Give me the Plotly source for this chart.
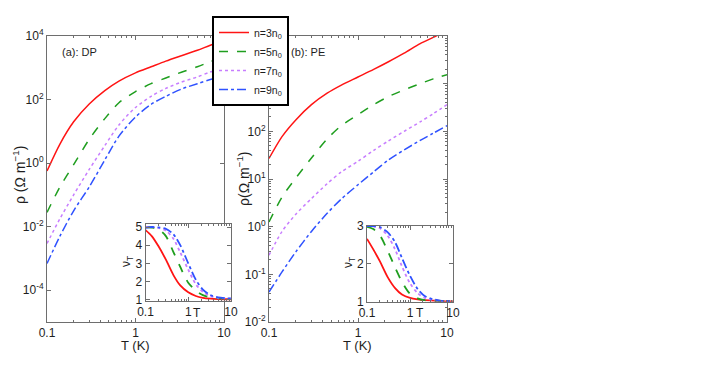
import plotly.graph_objects as go

# temperature grid (K)
T = [0.1, 0.14, 0.2, 0.3, 0.45, 0.65, 1.0, 1.5, 2.2, 3.3, 5.0, 7.0, 10.0]

labels = ["n=3n<sub>0</sub>", "n=5n<sub>0</sub>", "n=7n<sub>0</sub>", "n=9n<sub>0</sub>"]
colors = ["#ff1414", "#1f9e1f", "#c77dff", "#2f52ff"]
dashes = ["solid", "dash", "dot", "dashdot"]

# (a) DP: log10 of resistivity
dp_n3 = [-0.25, 0.60, 1.30, 1.86, 2.28, 2.58, 2.84, 3.03, 3.21, 3.38, 3.55, 3.71, 3.86]
dp_n5 = [-1.55, -0.75, -0.05, 0.75, 1.40, 1.90, 2.25, 2.50, 2.68, 2.86, 3.03, 3.19, 3.33]
dp_n7 = [-2.53, -1.75, -1.00, -0.20, 0.55, 1.20, 1.75, 2.10, 2.35, 2.55, 2.71, 2.87, 3.00]
dp_n9 = [-3.16, -2.30, -1.50, -0.75, 0.10, 0.85, 1.45, 1.85, 2.10, 2.33, 2.50, 2.63, 2.75]

# (b) PE: log10 of resistivity
pe_n3 = [1.43, 1.89, 2.24, 2.56, 2.80, 2.97, 3.14, 3.30, 3.46, 3.64, 3.84, 3.97, 4.12]
pe_n5 = [0.10, 0.62, 1.02, 1.44, 1.84, 2.12, 2.35, 2.56, 2.73, 2.87, 3.00, 3.10, 3.19]
pe_n7 = [-0.60, -0.10, 0.26, 0.59, 0.90, 1.15, 1.37, 1.60, 1.80, 2.00, 2.20, 2.37, 2.56]
pe_n9 = [-1.37, -0.95, -0.53, -0.10, 0.28, 0.58, 0.88, 1.15, 1.40, 1.61, 1.81, 1.96, 2.12]

# insets: nu_T
dp_nu3 = [4.83, 4.50, 3.95, 3.20, 2.35, 1.78, 1.40, 1.20, 1.10, 1.05, 1.03, 1.02, 1.02]
dp_nu5 = [5.00, 4.97, 4.88, 4.50, 3.62, 2.80, 1.93, 1.50, 1.25, 1.13, 1.08, 1.05, 1.04]
dp_nu7 = [5.00, 4.99, 4.95, 4.80, 4.35, 3.60, 2.65, 1.85, 1.42, 1.20, 1.10, 1.07, 1.05]
dp_nu9 = [4.95, 5.00, 4.98, 4.90, 4.60, 4.00, 3.00, 2.10, 1.55, 1.25, 1.12, 1.08, 1.06]

pe_nu3 = [2.66, 2.38, 2.06, 1.65, 1.35, 1.18, 1.09, 1.05, 1.03, 1.02, 1.01, 1.00, 1.00]
pe_nu5 = [2.98, 2.92, 2.75, 2.35, 1.90, 1.52, 1.20, 1.08, 1.03, 1.02, 1.01, 1.00, 1.00]
pe_nu7 = [3.00, 2.99, 2.94, 2.75, 2.38, 1.93, 1.48, 1.22, 1.09, 1.04, 1.01, 1.00, 1.00]
pe_nu9 = [3.00, 3.00, 2.97, 2.84, 2.57, 2.15, 1.68, 1.33, 1.14, 1.06, 1.02, 1.01, 1.00]

# page body has an 8px margin; size the figure so it fits the window
OFF = 8
W, H = 708 - OFF, 382 - OFF
FONT = "Liberation Sans, Arial, sans-serif"
AX = "#6e6e6e"
TXT = "#1e1e1e"

fig = go.Figure()

panels = [
    ("x", "y", [dp_n3, dp_n5, dp_n7, dp_n9], True, 1.5),
    ("x2", "y2", [pe_n3, pe_n5, pe_n7, pe_n9], False, 1.5),
]
for xa, ya, series, show, w in panels:
    for i, s in enumerate(series):
        fig.add_trace(go.Scatter(
            x=T, y=[10 ** v for v in s], mode="lines", xaxis=xa, yaxis=ya,
            name=labels[i], legendgroup=labels[i], showlegend=show,
            line=dict(color=colors[i], dash=dashes[i], width=w, shape="spline", smoothing=0.8),
        ))

insets = [("x3", "y3", [dp_nu3, dp_nu5, dp_nu7, dp_nu9]), ("x4", "y4", [pe_nu3, pe_nu5, pe_nu7, pe_nu9])]
for xa, ya, series in insets:
    for i, s in enumerate(series):
        fig.add_trace(go.Scatter(
            x=T, y=s, mode="lines", xaxis=xa, yaxis=ya, showlegend=False,
            name=labels[i], legendgroup=labels[i],
            line=dict(color=colors[i], dash=dashes[i], width=1.8, shape="spline", smoothing=0.8),
        ))

minor_x = [k * 10 ** e for e in (-1, 0) for k in range(2, 10)]
minor_pe = [k * 10 ** e for e in range(-2, 4) for k in range(2, 10)]


def fx(x):
    return (x - OFF) / W


def fy(y):
    return 1 - (y - OFF) / H


def px(x0, x1):
    return [fx(x0), fx(x1)]


def py(top, bot):
    return [fy(bot), fy(top)]


common = dict(showgrid=False, zeroline=False, showline=True, linecolor=AX, linewidth=1,
              mirror="ticks", ticks="inside", tickcolor=AX, ticklen=4, automargin=False,
              tickfont=dict(size=12, color=TXT, family=FONT))

xt = dict(type="log", range=[-1, 1], tickvals=[0.1, 1, 10], ticktext=["0.1", "1", "10"])
mx = dict(tickvals=minor_x, ticks="inside", ticklen=2, tickcolor=AX)

fig.update_layout(
    width=W, height=H, margin=dict(l=0, r=0, t=0, b=0, autoexpand=False),
    paper_bgcolor="white", plot_bgcolor="white",
    font=dict(family=FONT, color=TXT, size=12),
    xaxis=dict(domain=px(47, 224), anchor="y", **xt, minor=mx, **common),
    yaxis=dict(domain=py(36, 322), anchor="x", type="log", range=[-5, 4],
               tickvals=[1e-4, 1e-2, 1, 1e2, 1e4],
               ticktext=["10<sup>-4</sup>", "10<sup>-2</sup>", "10<sup>0</sup>", "10<sup>2</sup>", "10<sup>4</sup>"],
               **common),
    xaxis2=dict(domain=px(269, 447), anchor="y2", **xt, minor=mx, **common),
    yaxis2=dict(domain=py(36, 322), anchor="x2", type="log", range=[-2, 4],
                tickvals=[1e-2, 1e-1, 1, 1e1, 1e2, 1e3, 1e4],
                ticktext=["10<sup>-2</sup>", "10<sup>-1</sup>", "10<sup>0</sup>", "10<sup>1</sup>",
                          "10<sup>2</sup>", "10<sup>3</sup>", "10<sup>4</sup>"],
                minor=dict(tickvals=minor_pe, ticks="inside", ticklen=2, tickcolor=AX), **common),
    xaxis3=dict(domain=px(145.5, 231), anchor="y3", **xt, minor=mx, **common),
    yaxis3=dict(domain=py(224.3, 300.7), anchor="x3", range=[0.94, 5.15],
                tickvals=[1, 2, 3, 4, 5], **common),
    xaxis4=dict(domain=px(367, 453), anchor="y4", **xt, minor=mx, **common),
    yaxis4=dict(domain=py(225.7, 301.7), anchor="x4", range=[0.99, 3.01],
                tickvals=[1, 2, 3], **common),
    legend=dict(x=fx(212), y=fy(16), xanchor="left", yanchor="top",
                bgcolor="white", bordercolor="black", borderwidth=2,
                font=dict(size=10.5, color=TXT, family=FONT), tracegroupgap=0),
)

ann = [
    dict(text="(a): DP", x=60, y=52, xanchor="left", size=11),
    dict(text="(b): PE", x=289, y=52, xanchor="left", size=11),
    dict(text="T (K)", x=135, y=345, xanchor="center", size=13),
    dict(text="T (K)", x=357, y=345, xanchor="center", size=13),
    dict(text="ρ (Ω m<sup>−1</sup>)", x=19, y=175, xanchor="center", size=14, angle=-90),
    dict(text="ρ(Ω m<sup>−1</sup>)", x=243, y=178, xanchor="center", size=14, angle=-90),
    dict(text="T", x=197, y=313, xanchor="center", size=12),
    dict(text="T", x=420, y=313, xanchor="center", size=12),
    dict(text="ν<sub>T</sub>", x=127, y=262, xanchor="center", size=12, angle=-90),
    dict(text="ν<sub>T</sub>", x=349, y=263, xanchor="center", size=12, angle=-90),
]
for a in ann:
    fig.add_annotation(text=a["text"], xref="paper", yref="paper", x=fx(a["x"]), y=fy(a["y"]),
                       xanchor=a["xanchor"], yanchor="middle", showarrow=False,
                       textangle=a.get("angle", 0), font=dict(size=a["size"], color=TXT, family=FONT))

fig.write_html("out.html")
